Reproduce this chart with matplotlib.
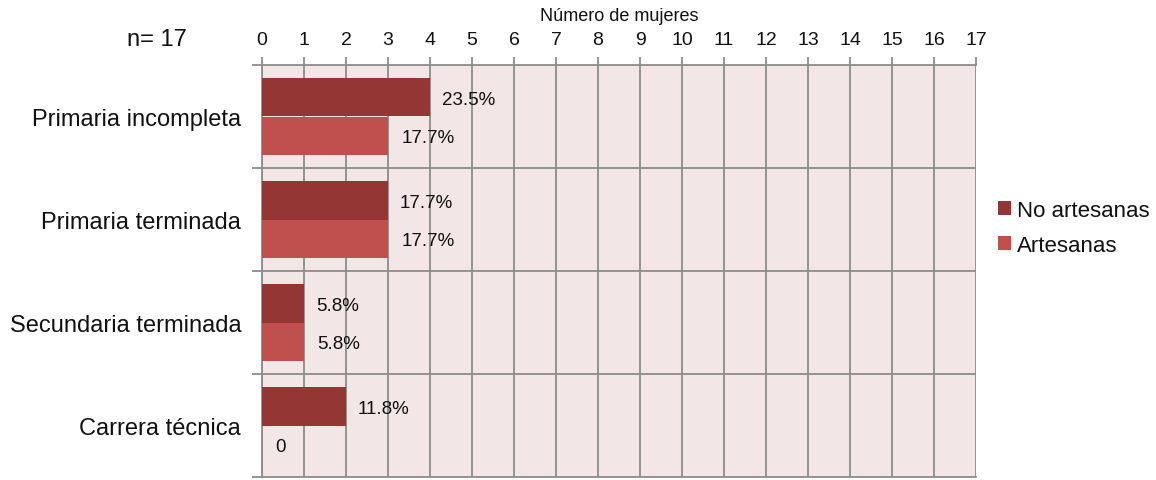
import matplotlib
matplotlib.use("Agg")
import matplotlib.pyplot as plt
import numpy as np

plt.rcParams['font.family'] = ['Liberation Sans', 'DejaVu Sans']

categories = ["Primaria incompleta", "Primaria terminada", "Secundaria terminada", "Carrera técnica"]
no_artesanas = [4, 3, 1, 2]
artesanas = [3, 3, 1, 0]
labels_no = ["23.5%", "17.7%", "5.8%", "11.8%"]
labels_art = ["17.7%", "17.7%", "5.8%", "0"]
series_names = ["No artesanas", "Artesanas"]
xticks = list(range(0, 18))

c_dark = "#943634"
c_light = "#C0504D"
bg = "#F2E6E6"
grid_c = "#8C8C8C"
txt = "#111111"

fig = plt.figure(figsize=(11.56, 4.81), dpi=100)
ax = fig.add_axes([262/1156, 3/481, 714/1156, 412/481])
ax.set_facecolor(bg)

n = len(categories)
y = np.arange(n)
h = 0.37
ax.barh(y - h/2, no_artesanas, height=h, color=c_dark, zorder=3, label=series_names[0])
ax.barh(y + h/2, artesanas, height=h, color=c_light, zorder=3, label=series_names[1])

for i in range(n):
    ax.annotate(labels_no[i], (no_artesanas[i], y[i] - h/2), xytext=(8.5, -1.5), textcoords="offset points",
                va="center", ha="left", fontsize=13.5, color=txt, zorder=4)
    ax.annotate(labels_art[i], (artesanas[i], y[i] + h/2), xytext=(9.5, -1.5), textcoords="offset points",
                va="center", ha="left", fontsize=13.5, color=txt, zorder=4)

ax.set_xlim(0, 17)
ax.set_ylim(n - 0.5, -0.5)
ax.xaxis.tick_top()
ax.xaxis.set_label_position("top")
ax.set_xticks(xticks)
ax.tick_params(axis="x", length=6, width=1.3, color=grid_c, labelsize=14, pad=6, labelcolor=txt)
ax.set_xlabel("Número de mujeres", fontsize=13, labelpad=8, color=txt)
ax.grid(axis="x", color=grid_c, linewidth=1.3, zorder=1)

ax.set_yticks(y)
ax.set_yticklabels(categories, fontsize=17, color=txt)
ax.tick_params(axis="y", length=0, pad=15)
ax.set_yticks(np.arange(-0.5, n, 1), minor=True)
ax.tick_params(axis="y", which="minor", length=7, width=1.3, color=grid_c)
for b in np.arange(0.5, n - 0.5, 1):
    ax.axhline(b, color=grid_c, linewidth=1.3, zorder=1)

for s in ax.spines.values():
    s.set_color(grid_c)
    s.set_linewidth(1.3)
ax.spines["right"].set_visible(False)

fig.text(187/1156, 1 - 40/481, "n= 17", fontsize=17, ha="right", va="center", color=txt)

leg = fig.legend(loc="upper left", bbox_to_anchor=(978/1156, 1 - 181/481), frameon=False,
                 fontsize=16, handlelength=0.6, handleheight=0.6, handletextpad=0.25, labelspacing=0.62)
for t in leg.get_texts():
    t.set_color(txt)

fig.savefig("out.png", dpi=100)
